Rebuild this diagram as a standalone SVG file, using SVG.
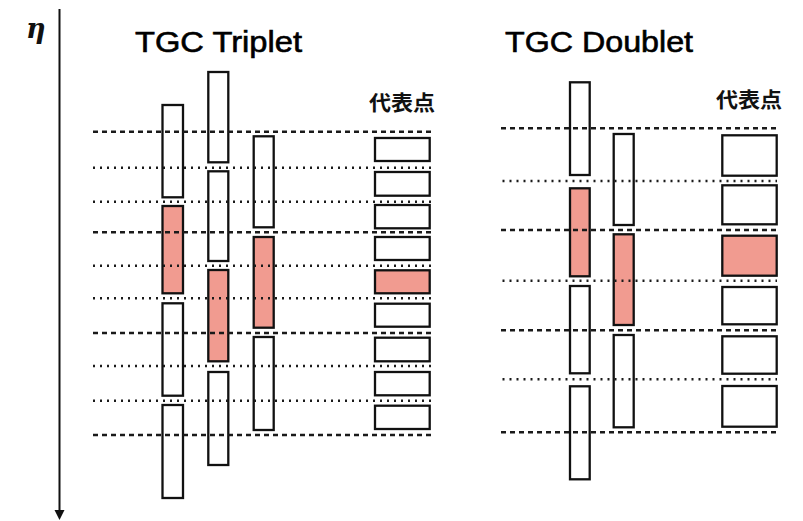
<svg xmlns="http://www.w3.org/2000/svg" width="803" height="521" viewBox="0 0 803 521">
<style>
.box{fill:#fff;stroke:#111;stroke-width:2.3}
.hit{fill:#F19B90;stroke:#111;stroke-width:2.3}
.dash{stroke:#1a1a1a;stroke-width:2.4;stroke-dasharray:5 4;fill:none}
.dot{stroke:#1a1a1a;stroke-width:2.4;stroke-dasharray:2 5;fill:none}
.title{font-family:"Liberation Sans",Arial,sans-serif;font-size:29px;fill:#000;stroke:#000;stroke-width:0.6}
.rep{font-family:"Noto Sans CJK JP","Noto Sans CJK SC",sans-serif;font-size:21px;font-weight:bold;fill:#111}
</style>
<rect width="803" height="521" fill="#fff"/>
<g id="axis">
<line x1="59.5" y1="9" x2="59.5" y2="511" stroke="#111" stroke-width="2"/>
<polygon points="54.5,510 64.5,510 59.5,520" fill="#111"/>
<text x="26" y="38" font-family="DejaVu Serif,serif" font-style="italic" font-weight="bold" font-size="27" fill="#111">η</text>
</g>
<g id="triplet-title"><text class="title" x="135" y="52" textLength="167" lengthAdjust="spacingAndGlyphs">TGC Triplet</text></g>
<g id="doublet-title"><text class="title" x="505" y="52" textLength="188" lengthAdjust="spacingAndGlyphs">TGC Doublet</text></g>
<g id="triplet-rep-label"><text class="rep" x="369" y="110" textLength="66" lengthAdjust="spacingAndGlyphs">代表点</text></g>
<g id="doublet-rep-label"><text class="rep" x="716" y="107" textLength="66" lengthAdjust="spacingAndGlyphs">代表点</text></g>

<g id="triplet-col1">
<rect class="box" x="162.5" y="105" width="20.5" height="92.3"/>
<rect class="hit" x="162.5" y="206" width="20.5" height="87.3"/>
<rect class="box" x="162.5" y="303.3" width="20.5" height="92.4"/>
<rect class="box" x="162.5" y="405" width="20.5" height="93"/>
</g>
<g id="triplet-col2">
<rect class="box" x="208.3" y="72" width="20" height="90.3"/>
<rect class="box" x="208.3" y="171.3" width="20" height="89.7"/>
<rect class="hit" x="208.3" y="270" width="20" height="91.3"/>
<rect class="box" x="208.3" y="372" width="20" height="93"/>
</g>
<g id="triplet-col3">
<rect class="box" x="253.7" y="136.3" width="20" height="91"/>
<rect class="hit" x="253.7" y="237" width="20" height="90.7"/>
<rect class="box" x="253.7" y="337" width="20" height="93"/>
</g>
<g id="triplet-rep">
<rect class="box" x="375" y="138" width="54.7" height="23"/>
<rect class="box" x="375" y="172" width="54.7" height="23.7"/>
<rect class="box" x="375" y="205" width="54.7" height="23.3"/>
<rect class="box" x="375" y="237" width="54.7" height="23"/>
<rect class="hit" x="375" y="270.3" width="54.7" height="23"/>
<rect class="box" x="375" y="303.7" width="54.7" height="23"/>
<rect class="box" x="375" y="337.7" width="54.7" height="23.6"/>
<rect class="box" x="375" y="372" width="54.7" height="23.3"/>
<rect class="box" x="375" y="405.7" width="54.7" height="23.3"/>
</g>

<g id="doublet-colA">
<rect class="box" x="570" y="82.3" width="19.7" height="92.7"/>
<rect class="hit" x="570" y="188.3" width="19.7" height="88"/>
<rect class="box" x="570" y="286" width="19.7" height="87.3"/>
<rect class="box" x="570" y="386.3" width="19.7" height="93"/>
</g>
<g id="doublet-colB">
<rect class="box" x="613.7" y="134" width="20" height="91"/>
<rect class="hit" x="613.7" y="234.3" width="20" height="90.7"/>
<rect class="box" x="613.7" y="335" width="20" height="92.3"/>
</g>
<g id="doublet-rep">
<rect class="box" x="722.3" y="135.3" width="54.4" height="40.4"/>
<rect class="box" x="722.3" y="185.3" width="54.4" height="39"/>
<rect class="hit" x="722.3" y="235.7" width="54.4" height="40"/>
<rect class="box" x="722.3" y="287" width="54.4" height="37.3"/>
<rect class="box" x="722.3" y="336.3" width="54.4" height="37.4"/>
<rect class="box" x="722.3" y="386" width="54.4" height="40.7"/>
</g>

<g id="connectors">
<line class="dash" x1="93" y1="131.7" x2="431" y2="131.7"/>
<line class="dot" x1="93" y1="167.7" x2="431" y2="167.7"/>
<line class="dot" x1="93" y1="201.7" x2="431" y2="201.7"/>
<line class="dash" x1="93" y1="232.3" x2="431" y2="232.3"/>
<line class="dot" x1="93" y1="265.7" x2="431" y2="265.7"/>
<line class="dot" x1="93" y1="298.3" x2="431" y2="298.3"/>
<line class="dash" x1="93" y1="333" x2="431" y2="333"/>
<line class="dot" x1="93" y1="366" x2="431" y2="366"/>
<line class="dot" x1="93" y1="400.7" x2="431" y2="400.7"/>
<line class="dash" x1="93" y1="435" x2="431" y2="435"/>

<line class="dash" x1="501" y1="128.3" x2="777" y2="128.3"/>
<line class="dot" x1="502.5" y1="181" x2="777" y2="181"/>
<line class="dash" x1="501" y1="230" x2="777" y2="230"/>
<line class="dot" x1="502.5" y1="280.7" x2="777" y2="280.7"/>
<line class="dash" x1="501" y1="330.3" x2="777" y2="330.3"/>
<line class="dot" x1="502.5" y1="379.3" x2="777" y2="379.3"/>
<line class="dash" x1="501" y1="432.3" x2="777" y2="432.3"/>
</g>
</svg>
